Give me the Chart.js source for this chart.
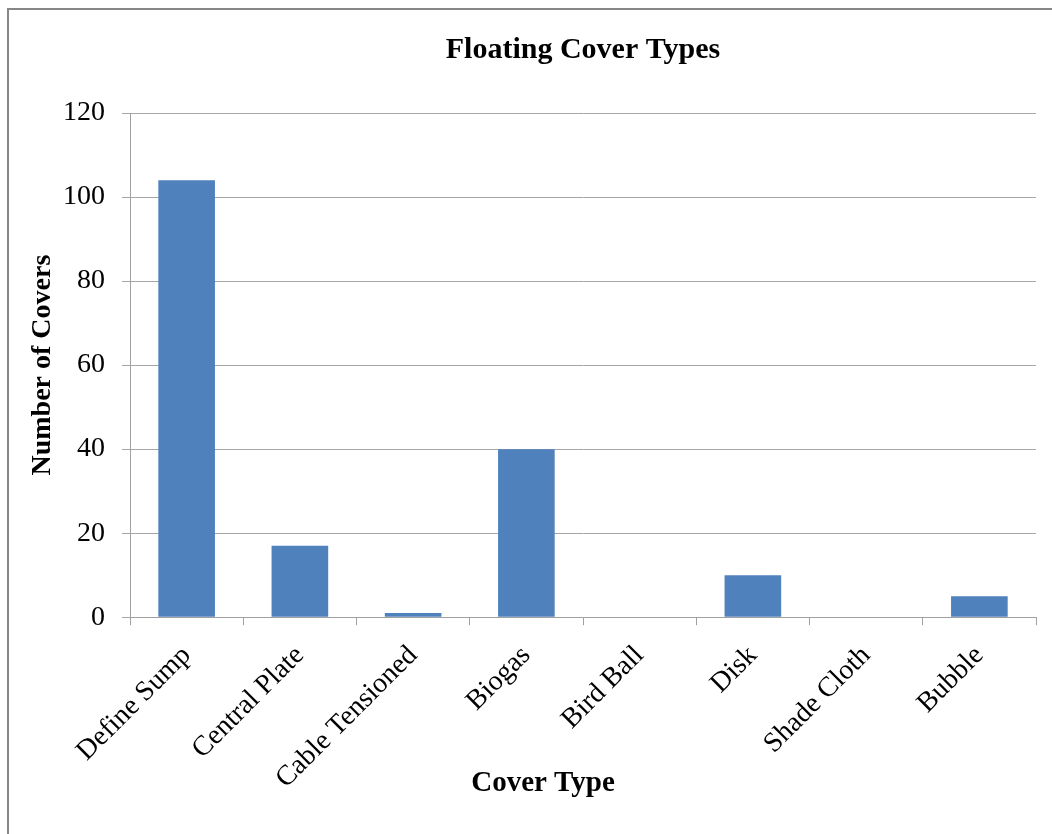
<!DOCTYPE html>
<html>
<head>
<meta charset="utf-8">
<script src="https://cdn.jsdelivr.net/npm/chart.js@4/dist/chart.umd.min.js"></script>
<style>
  body { margin: 0; background: #fff; overflow: hidden; }
  .frame { position: absolute; left: 7px; top: 8px; width: 1100px; height: 900px; border: 2px solid #878787; }
  #myChart { position: absolute; left: 0; top: 0; }
</style>
</head>
<body>
<div class="frame"></div>
<canvas id="myChart" width="1052" height="834"></canvas>
<script>
// chart data
const coverTypes = ['Define Sump', 'Central Plate', 'Cable Tensioned', 'Biogas', 'Bird Ball', 'Disk', 'Shade Cloth', 'Bubble']
const coverCounts = [104, 17, 1, 40, 0, 10, 0, 5]
const yTicks = [0, 20, 40, 60, 80, 100, 120]

const serif = 'Liberation Serif, Times New Roman, serif'

const data = {
  labels: coverTypes,
  datasets: [{
    label: 'Number of Covers',
    backgroundColor: '#4f81bd',
    borderWidth: 0,
    data: coverCounts,
    categoryPercentage: 1,
    barPercentage: 0.5
  }]
}

const config = {
  type: 'bar',
  data,
  options: {
    responsive: false,
    animation: false,
    layout: { padding: { left: 50, right: 16, top: 0, bottom: 0 } },
    plugins: {
      legend: { display: false },
      tooltip: { enabled: false },
      title: {
        display: true,
        text: 'Floating Cover Types',
        position: 'top',
        fullSize: false,
        color: '#000',
        font: { family: serif, size: 30, weight: 'bold', lineHeight: 1.2 },
        padding: { top: 32, bottom: 45 }
      },
      // x axis title sits under the rotated labels, centred like the original
      subtitle: {
        display: true,
        text: 'Cover Type',
        position: 'bottom',
        color: '#000',
        font: { family: serif, size: 29, weight: 'bold', lineHeight: 1.2 },
        padding: { top: -36, bottom: 33 }
      }
    },
    scales: {
      x: {
        afterFit: function(scale) { scale.height = 185 },
        grid: { drawOnChartArea: false, tickLength: 8, color: '#a0a0a0', offset: true },
        border: { color: '#a0a0a0' },
        ticks: {
          color: '#000',
          font: { family: serif, size: 28 },
          minRotation: 45,
          maxRotation: 45,
          autoSkip: false,
          padding: 14
        }
      },
      y: {
        min: 0,
        max: 120,
        afterFit: function(scale) { scale.width = 80 },
        afterBuildTicks: function(scale) { scale.ticks = yTicks.map(v => ({ value: v })) },
        grid: { color: '#a6a6a6', tickLength: 8 },
        border: { color: '#a0a0a0' },
        ticks: {
          color: '#000',
          font: { family: serif, size: 28 },
          padding: 17
        },
        title: {
          display: true,
          text: 'Number of Covers',
          color: '#000',
          font: { family: serif, size: 28, weight: 'bold', lineHeight: 1.2 },
          padding: { top: -24, bottom: 0 }
        }
      }
    }
  }
}

var myChart = new Chart(document.getElementById('myChart'), config)
</script>
</body>
</html>
